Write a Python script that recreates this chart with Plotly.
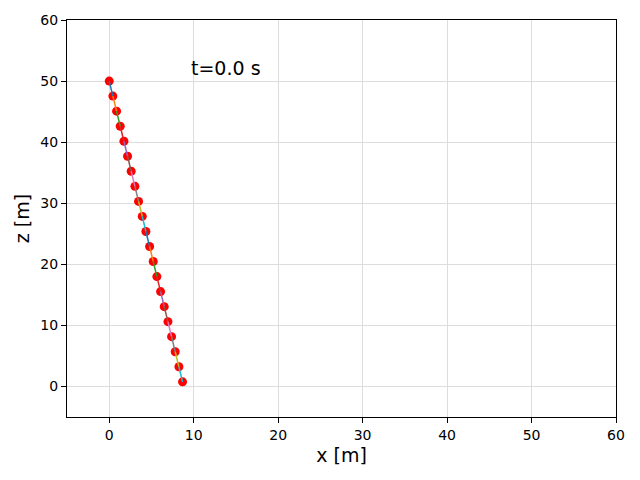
import plotly.graph_objects as go

# node positions of the chain at t = 0
x_pos = [0.0, 0.43, 0.87, 1.30, 1.74, 2.17, 2.60, 3.04, 3.47, 3.91, 4.34,
         4.78, 5.21, 5.64, 6.08, 6.51, 6.95, 7.38, 7.81, 8.25, 8.68]
z_pos = [50.0, 47.54, 45.08, 42.61, 40.15, 37.69, 35.23, 32.77, 30.30, 27.84, 25.38,
         22.92, 20.46, 17.99, 15.53, 13.07, 10.61, 8.15, 5.69, 3.22, 0.76]
time_label = "t=0.0 s"

# matplotlib default colour cycle for the segments
cycle = ["#1f77b4", "#ff7f0e", "#2ca02c", "#d62728", "#9467bd",
         "#8c564b", "#e377c2", "#7f7f7f", "#bcbd22", "#17becf"]

fig = go.Figure()

# red nodes first, segments drawn over them
fig.add_trace(go.Scatter(x=x_pos, y=z_pos, mode="markers",
                         marker=dict(color="red", size=9, line=dict(width=0)),
                         showlegend=False, hoverinfo="skip"))

for i in range(len(x_pos) - 1):
    fig.add_trace(go.Scatter(x=x_pos[i:i + 2], y=z_pos[i:i + 2], mode="lines",
                             line=dict(color=cycle[i % len(cycle)], width=1.5),
                             showlegend=False))

fig.add_annotation(x=9.5, y=52.1, xref="x", yref="y", text=time_label,
                   showarrow=False, xanchor="left", yanchor="middle",
                   font=dict(size=19, color="black"))

ax = dict(showline=True, linecolor="black", linewidth=1, mirror=True,
          ticks="outside", ticklen=5, tickcolor="black", automargin=False,
          showgrid=True, gridcolor="#dddddd", gridwidth=1, zeroline=False,
          tickfont=dict(size=14, color="black"))

# page adds ~8px body margin, so margins are shifted up/left to compensate
fig.update_layout(
    width=640, height=480,
    margin=dict(l=59, r=32, t=12, b=71),
    plot_bgcolor="white", paper_bgcolor="white",
    font=dict(family="DejaVu Sans", color="black"),
    xaxis=dict(ax, range=[-5, 60], dtick=10, tick0=0,
               title=dict(text="x [m]", font=dict(size=19), standoff=6)),
    yaxis=dict(ax, range=[-5, 60], dtick=10, tick0=0,
               title=dict(text="z [m]", font=dict(size=19), standoff=5)),
)

fig.write_html("out.html")
